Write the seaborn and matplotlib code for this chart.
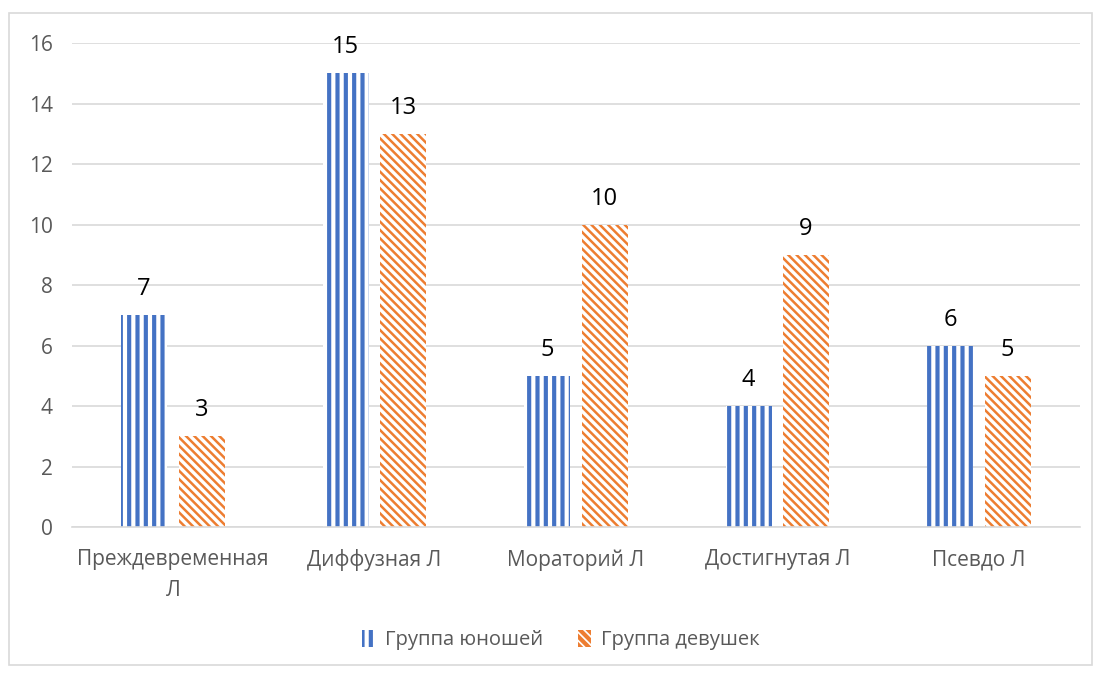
import numpy as np
import pandas as pd
import matplotlib
matplotlib.use("Agg")
import matplotlib.pyplot as plt
import matplotlib.patches as mpatches
import seaborn as sns

# values
categories = ["Преждевременная\nЛ", "Диффузная Л", "Мораторий Л", "Достигнутая Л", "Псевдо Л"]
groups = ["Группа юношей", "Группа девушек"]
boys = [7, 15, 5, 4, 6]
girls = [3, 13, 10, 9, 5]

colors = ["#4472C4", "#ED7D31"]
hatches = ["||", "\\\\\\\\"]
hatch_widths = [3.0, 1.8]

df = pd.DataFrame({
    "category": categories * 2,
    "group": [groups[0]] * len(categories) + [groups[1]] * len(categories),
    "value": boys + girls,
})

sns.set_style("white")
plt.rcParams["font.family"] = ["Open Sans", "DejaVu Sans"]
plt.rcParams["hatch.linewidth"] = 3.0

fig = plt.figure(figsize=(10.95, 6.73), dpi=100)
ax = fig.add_axes([0.0658, 0.2169, 0.9202, 0.7192])

sns.barplot(data=df, x="category", y="value", hue="group", order=categories,
            hue_order=groups, palette=colors, width=0.57, gap=0.2, ax=ax, legend=False)


def style_bar(bar, col, h, lw):
    bar.set_facecolor("white")
    bar.set_edgecolor(col)
    bar.set_hatch(h)
    bar.set_linewidth(0)
    if hasattr(bar, "set_hatch_linewidth"):
        bar.set_hatch_linewidth(lw)
    else:
        bar._hatch_linewidth = lw


for cont, col, h, lw in zip(ax.containers, colors, hatches, hatch_widths):
    for bar in cont:
        style_bar(bar, col, h, lw)
    ax.bar_label(cont, labels=[str(int(b.get_height())) for b in cont],
                 padding=10, fontsize=17, color="black")

ax.set_ylim(0, 16)
ax.set_yticks(range(0, 17, 2))
ax.grid(axis="y", color="#D9D9D9", linewidth=1.2)
ax.set_axisbelow(True)
for s in ["left", "right", "top"]:
    ax.spines[s].set_visible(False)
ax.spines["bottom"].set_color("#D9D9D9")
ax.spines["bottom"].set_linewidth(1.2)
ax.tick_params(axis="y", length=0, pad=14, labelsize=15, labelcolor="#595959")
ax.tick_params(axis="x", length=0, pad=16, labelsize=15, labelcolor="#595959")
for t in ax.get_xticklabels():
    t.set_linespacing(1.6)
ax.set_xlabel("")
ax.set_ylabel("")

handles = []
for c, h, g, lw in zip(colors, hatches, groups, hatch_widths):
    p = mpatches.Patch(label=g)
    style_bar(p, c, h, lw)
    handles.append(p)
fig.legend(handles=handles, loc="center", bbox_to_anchor=(0.512, 0.049), ncol=2,
           frameon=False, fontsize=14.5, labelcolor="#595959", handlelength=0.65,
           handleheight=0.9, handletextpad=0.5, columnspacing=1.7)

# outer chart border
fig.patches.append(mpatches.Rectangle((9 / 1095, 8 / 673), 1083 / 1095, 652 / 673,
                                      transform=fig.transFigure, fill=False,
                                      edgecolor="#D9D9D9", linewidth=1.2))

fig.savefig("out.png", dpi=100)
